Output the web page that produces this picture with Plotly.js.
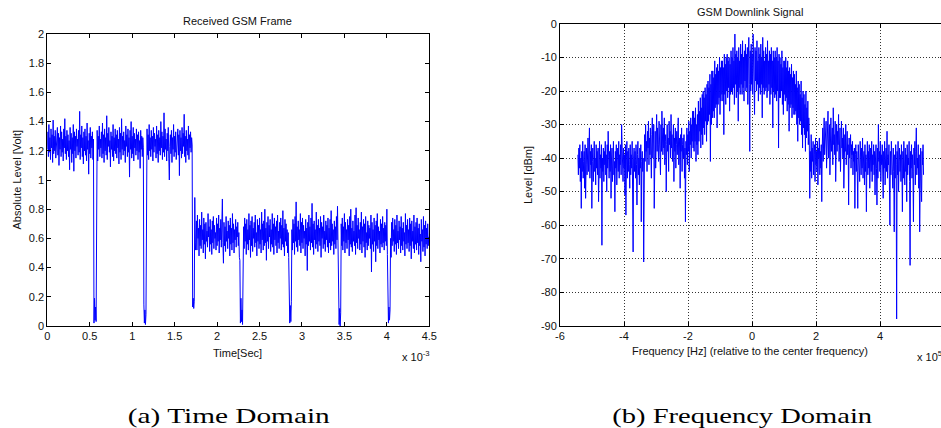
<!DOCTYPE html>
<html><head><meta charset="utf-8">
<script src="https://cdn.plot.ly/plotly-3.0.1.min.js"></script>
<style>
html,body{margin:0;padding:0;overflow:hidden;background:#fff;width:941px;height:428px}
#chart{width:950px;height:428px}
</style>
</head><body><div id="chart"></div>
<script>
// ---------- (a) Time domain: absolute level [Volt], sampled every 0.00625 ms ----------
const dtMs = 0.00625;
const highA = [1.21,1.33,1.16,1.38,1.19,1.29,1.14,1.35,1.22,1.31,
  1.12,1.41,1.18,1.30,1.20,1.34,1.15,1.27,1.23,1.36,
  1.17,1.32,1.10,1.29,1.21,1.37,1.16,1.33,1.19,1.28,
  1.13,1.35,1.22,1.42,1.18,1.30,1.14,1.34,1.20,1.31,
  1.16,1.27,1.07,1.36,1.21,1.32,1.12,1.29,1.18,1.38,
  1.06,1.33,1.20,1.30,1.15,1.35,1.23,1.28,1.17,1.34,
  1.19,1.47,1.14,1.31,1.22,1.37,1.16,1.29,1.11,1.33,
  1.20,1.35,1.17,1.30,1.13,1.39,1.21,1.27,1.04,1.32,
  1.18,1.36,1.15,1.30,1.22,1.33,1.14,1.28];
const dip1 = [0.02,0.19,0.04,0.13,0.03];
const highB = [1.19,1.34,1.13,1.30,1.21,1.37,1.16,1.28,1.22,1.33,
  1.15,1.39,1.18,1.31,1.12,1.35,1.20,1.29,1.17,1.44,
  1.14,1.32,1.23,1.36,1.19,1.27,1.09,1.33,1.21,1.30,
  1.16,1.38,1.13,1.29,1.20,1.35,1.18,1.31,1.15,1.34,
  1.22,1.28,1.11,1.36,1.19,1.32,1.14,1.42,1.21,1.30,
  1.17,1.33,1.20,1.27,1.12,1.37,1.23,1.31,1.16,1.35,
  1.19,1.29,1.02,1.34,1.21,1.40,1.15,1.30,1.18,1.36,
  1.13,1.32,1.22,1.28,1.17,1.35,1.20,1.31,1.14,1.33,
  1.19,1.27,1.08,1.34,1.21,1.30,1.16,1.29,1.22];
const dip2 = [0.15,0.02,0.11,0.01,0.08];
const highC = [1.22,1.35,1.17,1.31,1.14,1.38,1.20,1.29,1.16,1.34,
  1.21,1.30,1.13,1.36,1.19,1.32,1.23,1.28,1.15,1.37,
  1.18,1.31,1.12,1.34,1.20,1.29,1.17,1.40,1.22,1.33,
  1.14,1.30,1.19,1.46,1.16,1.35,1.21,1.28,1.13,1.32,
  1.20,1.36,1.15,1.00,1.23,1.31,1.18,1.34,1.12,1.29,
  1.21,1.38,1.16,1.30,1.19,1.33,1.14,1.27,1.22,1.35,
  1.17,1.31,1.03,1.34,1.20,1.29,1.15,1.36,1.18,1.32,
  1.23,1.45,1.16,1.30,1.12,1.34,1.20,1.28,1.17,1.37,
  1.14,1.31,1.22,1.33,1.19,1.29,1.24];
const dip3 = [0.13,0.19,0.12,0.17,0.88,0.52];
const lowA = [0.57,0.72,0.52,0.76,0.60,0.67,0.48,0.73,0.55,0.69,
  0.53,0.78,0.59,0.66,0.50,0.74,0.56,0.70,0.46,0.71,
  0.58,0.65,0.54,0.77,0.61,0.68,0.51,0.73,0.56,0.66,
  0.49,0.72,0.57,0.75,0.53,0.69,0.60,0.64,0.52,0.74,
  0.55,0.70,0.58,0.76,0.50,0.67,0.59,0.73,0.54,0.66,
  0.87,0.57,0.43,0.71,0.55,0.68,0.51,0.75,0.58,0.65,
  0.53,0.72,0.60,0.69,0.48,0.74,0.56,0.67,0.52,0.77,
  0.57,0.70,0.50,0.66,0.59,0.73,0.54,0.68,0.61,0.71,
  0.55,0.64,0.47];
const dip4 = [0.45,0.02,0.19,0.03,0.11,0.01,0.35];
const lowB = [0.68,0.53,0.74,0.58,0.70,0.49,0.73,0.56,0.66,0.52,
  0.77,0.59,0.69,0.47,0.72,0.55,0.75,0.51,0.67,0.60,
  0.71,0.54,0.76,0.57,0.64,0.48,0.73,0.58,0.69,0.53,
  0.74,0.56,0.66,0.50,0.78,0.59,0.70,0.52,0.72,0.55,
  0.80,0.57,0.67,0.45,0.71,0.58,0.75,0.53,0.69,0.61,
  0.73,0.51,0.66,0.56,0.77,0.54,0.70,0.49,0.74,0.59,
  0.68,0.55,0.72,0.50,0.76,0.57,0.65,0.53,0.71,0.60,
  0.74,0.52,0.69,0.56,0.79,0.54,0.67,0.48,0.73,0.58,
  0.70,0.55,0.66,0.50,0.64,0.47];
const dip5 = [0.08,0.02,0.14,0.03,0.17];
const lowC = [0.66,0.52,0.73,0.57,0.70,0.49,0.75,0.58,0.85,0.54,
  0.68,0.51,0.72,0.59,0.66,0.55,0.77,0.50,0.71,0.57,
  0.74,0.53,0.69,0.60,0.65,0.48,0.73,0.56,0.67,0.38,
  0.71,0.55,0.76,0.58,0.68,0.52,0.74,0.57,0.84,0.54,
  0.70,0.49,0.72,0.59,0.66,0.53,0.78,0.56,0.69,0.51,
  0.73,0.58,0.67,0.55,0.75,0.47,0.71,0.60,0.68,0.53,
  0.76,0.56,0.65,0.51,0.72,0.59,0.69,0.54,0.74,0.50,
  0.67,0.57,0.73,0.52,0.79,0.55,0.70,0.58,0.66,0.49,
  0.72,0.56,0.68,0.53,0.75,0.59,0.82,0.57];
const dip6 = [0.23,0.01,0.12,0.00,0.09];
const lowD = [0.70,0.55,0.74,0.52,0.68,0.58,0.77,0.50,0.71,0.57,
  0.66,0.53,0.73,0.59,0.69,0.48,0.75,0.56,0.80,0.54,
  0.67,0.51,0.72,0.58,0.65,0.55,0.76,0.49,0.81,0.57,
  0.69,0.53,0.74,0.60,0.66,0.52,0.71,0.56,0.78,0.50,
  0.68,0.58,0.73,0.54,0.70,0.47,0.75,0.57,0.64,0.52,
  0.72,0.55,0.69,0.60,0.67,0.53,0.76,0.37,0.71,0.56,
  0.66,0.51,0.74,0.58,0.69,0.44,0.72,0.55,0.77,0.53,
  0.68,0.59,0.65,0.50,0.73,0.56,0.70,0.54,0.75,0.57,
  0.67,0.52,0.71,0.58,0.69,0.55,0.80,0.49];
const dip7 = [0.15,0.02,0.13,0.04,0.11];
const lowE = [0.60,0.47,0.71,0.55,0.74,0.58,0.66,0.51,0.73,0.56,
  0.69,0.49,0.76,0.57,0.65,0.53,0.72,0.59,0.68,0.50,
  0.75,0.55,0.67,0.52,0.71,0.58,0.64,0.48,0.77,0.56,
  0.69,0.53,0.73,0.57,0.66,0.51,0.74,0.55,0.70,0.46,
  0.72,0.58,0.65,0.53,0.76,0.50,0.68,0.56,0.71,0.52,
  0.74,0.57,0.67,0.49,0.70,0.55,0.63,0.44,0.73,0.58,
  0.66,0.51,0.75,0.54,0.69,0.48,0.72,0.56,0.67,0.53,
  0.70,0.55,0.61,0.57];

const timeTickVals = [0,0.5,1,1.5,2,2.5,3,3.5,4,4.5];
const timeTickText = ['0','0.5','1','1.5','2','2.5','3','3.5','4','4.5'];
const voltTickVals = [0,0.2,0.4,0.6,0.8,1,1.2,1.4,1.6,1.8,2];
const voltTickText = ['0','0.2','0.4','0.6','0.8','1','1.2','1.4','1.6','1.8','2'];

// ---------- (b) Frequency domain: level [dBm], bins every 0.015 x10^5 Hz from -5.44 ----------
const freqStart = -5.44, freqStep = 0.015;
const floorLeft = [-39,-45,-37,-43,-36,-47,-40,-55,-38,-44,
  -35,-46,-41,-38,-49,-36,-52,-42,-37,-45,
  -39,-34,-44,-40,-31,-46,-38,-42,-36,-55,
  -41,-37,-47,-39,-35,-44,-40,-48,-36,-43,
  -38,-45,-37,-53,-41,-35,-46,-39,-43,-36,
  -66,-40,-44,-37,-47,-38,-42,-35,-45,-39,
  -50,-36,-43,-32,-41,-46,-38,-44,-36,-52,
  -40,-37,-47,-39,-35,-45,-41,-56,-38,-43,
  -36,-48,-40,-37,-44,-35,-46,-39,-42,-36,
  -45,-30,-41,-38,-47,-37,-43,-39,-51,-36,
  -57,-40,-35,-46,-38,-44,-37,-42,-49,-36,
  -45,-39,-43,-35,-47,-68,-40,-37,-44,-38,
  -46,-36,-42,-54,-39,-35,-45,-40,-48,-37,
  -43,-36,-59,-41,-38,-44];
const bumpLeft = [-40,-71,-36,-33,-41,-30,-38,-35,-44,-32,
  -37,-29,-42,-34,-39,-31,-36,-46,-33,-28,
  -40,-35,-30,-55,-37,-32,-43,-34,-27,-38,
  -31,-36,-41,-29,-35,-33,-45,-30,-38,-26,
  -34,-39,-31,-37,-28,-42,-35,-33,-50,-36,
  -30,-38,-34,-44,-29,-36,-32,-40,-27,-37,
  -33,-41,-35,-30,-47,-34,-38,-31,-43,-36,
  -32,-39,-35,-28,-42,-37,-34,-49,-33,-38,
  -31,-44,-36,-34,-40,-33,-46,-37,-59,-35,
  -39];
const riseEdge = [-31,-42,-33,-38,-29,-44,-32,-36,-28,-40,-30,-35,-26,-37];
const mainLobe = [-26,-38,-28,-35,-25,-41,-30,-36,-27,-39,
  -23,-35,-26,-32,-22,-37,-25,-33,-21,-36,
  -20,-31,-22,-33,-19,-29,-21,-35,-18,-30,
  -17,-29,-19,-27,-15,-41,-18,-30,-14,-28,
  -14,-26,-16,-28,-11,-25,-15,-24,-13,-31,
  -12,-24,-14,-22,-10,-27,-13,-23,-11,-21,
  -11,-23,-13,-33,-9,-21,-12,-24,-10,-20,
  -9,-22,-11,-19,-10,-26,-12,-21,-8,-20,
  -10,-21,-7,-19,-11,-24,-3,-18,-9,-22,
  -8,-20,-10,-29,-7,-19,-11,-21,-6,-18,
  -9,-21,-5,-19,-10,-23,-8,-17,-6,-20,
  -9,-19,-7,-24,-10,-4,-18,-38,-8,-20,
  -6,-18,-9,-21,-3,-19,-10,-27,-7,-17,
  -8,-20,-5,-18,-11,-23,-7,-19,-9,-21,
  -6,-18,-10,-28,-4,-19,-8,-21,-11,-20,
  -7,-19,-9,-22,-5,-20,-11,-18,-8,-24,
  -9,-21,-7,-19,-11,-31,-8,-20,-10,-22,
  -8,-21,-10,-23,-7,-20,-11,-37,-9,-22,
  -10,-22,-12,-20,-8,-24,-13,-27,-11,-21,
  -11,-23,-10,-22,-13,-26,-11,-24,-14,-32,
  -13,-25,-15,-24,-12,-28,-16,-25,-14,-27,
  -15,-27,-18,-26,-14,-30,-19,-35,-17,-28,
  -18,-30,-21,-29,-17,-33,-22,-37,-20,-31,
  -21,-33,-24,-38,-20,-34,-25,-32,-23,-36,
  -28];
const fallEdge = [-34,-52,-38,-44,-33,-46,-37,-41,-35,-45,
  -39,-36,-47,-34,-42,-38,-44,-35,-48,-37,
  -40,-34,-45,-38,-43,-36,-53];
const bumpRight = [-37,-31,-41,-34,-28,-39,-33,-36,-29,-43,
  -32,-37,-26,-40,-34,-30,-45,-33,-28,-38,
  -35,-31,-42,-25,-36,-33,-39,-29,-47,-34,
  -30,-38,-32,-36,-27,-41,-35,-31,-44,-33,
  -29,-37,-34,-40,-31,-49,-36,-33,-38,-30,
  -42,-35,-32,-39,-36,-54,-34,-40,-37,-33,
  -43,-36,-39,-35,-45,-38,-41,-37,-55,-39,
  -36,-44];
const floorRight = [-38,-44,-55,-36,-42,-39,-47,-35,-41,-45,
  -37,-43,-34,-46,-40,-38,-48,-36,-44,-39,
  -56,-41,-35,-45,-38,-43,-36,-49,-40,-37,
  -44,-35,-47,-39,-42,-36,-45,-38,-51,-40,
  -36,-43,-54,-37,-46,-30,-41,-38,-44,-35,
  -47,-39,-42,-36,-45,-52,-38,-43,-35,-48,
  -40,-37,-44,-32,-46,-39,-42,-36,-47,-60,
  -38,-45,-35,-43,-40,-49,-37,-44,-62,-39,
  -46,-36,-42,-88,-38,-45,-35,-50,-41,-37,
  -44,-39,-47,-36,-43,-56,-38,-46,-35,-41,
  -48,-37,-44,-39,-53,-36,-45,-40,-42,-35,
  -47,-72,-38,-43,-36,-46,-39,-44,-59,-37,
  -42,-35,-48,-38,-31,-45,-40,-43,-36,-49,
  -39,-62,-44,-37,-46,-53,-38,-42,-36,-45];

const freqTickVals = [-6,-4,-2,0,2,4,6];
const freqTickText = ['-6','-4','-2','0','2','4','6'];
const dbmTickVals = [-90,-80,-70,-60,-50,-40,-30,-20,-10,0];
const dbmTickText = ['-90','-80','-70','-60','-50','-40','-30','-20','-10','0'];

// ---------- build traces ----------
const levelVolt = [].concat(highA,dip1,highB,dip2,highC,dip3,lowA,dip4,lowB,dip5,lowC,dip6,lowD,dip7,lowE);
const timeMs = levelVolt.map((_, i) => i * dtMs);
const levelDbm = [].concat(floorLeft,bumpLeft,riseEdge,mainLobe,fallEdge,bumpRight,floorRight);
const freq = levelDbm.map((_, i) => freqStart + i * freqStep);

const W = 950, H = 428;
const px = v => v / W, py = v => 1 - v / H;
const AX = 'Liberation Sans, Arial, sans-serif';
const SERIF = 'Liberation Serif, Times New Roman, serif';
const txt = '#111';

const baseAxis = {
  showline: true, linecolor: '#000', linewidth: 1, mirror: 'ticks',
  ticks: 'inside', ticklen: 4, tickcolor: '#000', tickwidth: 1,
  zeroline: false, showgrid: false, fixedrange: true,
  tickfont: {family: AX, size: 11, color: txt}
};

const traces = [
  {x: timeMs, y: levelVolt, type: 'scatter', mode: 'lines', xaxis: 'x', yaxis: 'y',
   line: {color: '#0000ff', width: 1}, hoverinfo: 'skip'},
  {x: freq, y: levelDbm, type: 'scatter', mode: 'lines', xaxis: 'x2', yaxis: 'y2',
   line: {color: '#0000ff', width: 1}, hoverinfo: 'skip'}
];

const grid = {showgrid: true, gridcolor: '#333', gridwidth: 1, griddash: '1px,2px'};

const layout = {
  width: W, height: H, margin: {l: 0, r: 0, t: 0, b: 0},
  paper_bgcolor: '#fff', plot_bgcolor: '#fff', showlegend: false, hovermode: false,
  font: {family: AX, size: 11, color: txt},
  xaxis: Object.assign({}, baseAxis, {domain: [px(47.3), px(429.3)], range: [0, 4.5], anchor: 'y',
    tickmode: 'array', tickvals: timeTickVals, ticktext: timeTickText}),
  yaxis: Object.assign({}, baseAxis, {domain: [py(326), py(34)], range: [0, 2], anchor: 'x',
    tickmode: 'array', tickvals: voltTickVals, ticktext: voltTickText}),
  xaxis2: Object.assign({}, baseAxis, grid, {domain: [px(560), px(944)], range: [-6, 6], anchor: 'y2',
    tickmode: 'array', tickvals: freqTickVals, ticktext: freqTickText}),
  yaxis2: Object.assign({}, baseAxis, grid, {domain: [py(325.7), py(24)], range: [-90, 0], anchor: 'x2',
    tickmode: 'array', tickvals: dbmTickVals, ticktext: dbmTickText}),
  annotations: [
    {text: 'Received GSM Frame', x: px(237), y: py(21), xanchor: 'center', yanchor: 'middle'},
    {text: 'GSM Downlink Signal', x: px(750), y: py(11.5), xanchor: 'center', yanchor: 'middle'},
    {text: 'Time[Sec]', x: px(237), y: py(353), xanchor: 'center', yanchor: 'middle'},
    {text: 'Frequency [Hz] (relative to the center frequency)', x: px(750), y: py(351), xanchor: 'center', yanchor: 'middle'},
    {text: 'Absolute Level [Volt]', x: px(16.5), y: py(180), xanchor: 'center', yanchor: 'middle', textangle: -90},
    {text: 'Level [dBm]', x: px(528), y: py(175), xanchor: 'center', yanchor: 'middle', textangle: -90},
    {text: 'x 10<sup>-3</sup>', x: px(400), y: py(356), xanchor: 'left', yanchor: 'middle'},
    {text: 'x 10<sup>5</sup>', x: px(915), y: py(356), xanchor: 'left', yanchor: 'middle'},
    {text: '(a) Time Domain', x: px(229), y: py(415), xanchor: 'center', yanchor: 'middle',
     font: {family: SERIF, size: 22, color: '#000'}},
    {text: '(b) Frequency Domain', x: px(742), y: py(415), xanchor: 'center', yanchor: 'middle',
     font: {family: SERIF, size: 22, color: '#000'}}
  ].map(a => Object.assign({xref: 'paper', yref: 'paper', showarrow: false,
    font: {family: AX, size: 11, color: txt}}, a))
};

// caption widths in the reference (px): the typeset captions are wide
const captionWidths = {'(a) Time Domain': 202, '(b) Frequency Domain': 260};

Plotly.newPlot('chart', traces, layout, {staticPlot: true, displayModeBar: false}).then(gd => {
  gd.querySelectorAll('.annotation-text').forEach(t => {
    const target = captionWidths[t.textContent];
    if (!target) return;
    const bb = t.getBBox();
    if (!bb.width) return;
    const s = target / bb.width;
    const cx = bb.x + bb.width / 2;
    const prev = t.getAttribute('transform') || '';
    t.setAttribute('transform', prev + ' translate(' + cx + ' 0) scale(' + s + ' 1) translate(' + (-cx) + ' 0)');
  });
});
</script>
</body></html>
